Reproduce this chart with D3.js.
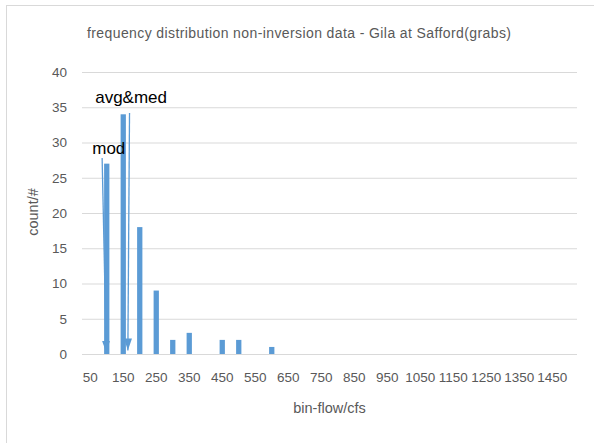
<!DOCTYPE html>
<html>
<head>
<meta charset="utf-8">
<script src="https://cdn.jsdelivr.net/npm/d3@7"></script>
<style>
  body { margin: 0; background: #fff; }
  text { font-family: "Liberation Sans", "Open Sans", sans-serif; fill: #595959; }
</style>
</head>
<body>
<svg id="chart" width="594" height="443"></svg>
<script>
'use strict';
// bins (cfs) and counts
let bins = [50, 100, 150, 200, 250, 300, 350, 400, 450, 500, 550, 600, 650, 700, 750,
            800, 850, 900, 950, 1000, 1050, 1100, 1150, 1200, 1250, 1300, 1350, 1400, 1450, 1500];
let counts = [0, 27, 34, 18, 9, 2, 3, 0, 2, 2, 0, 1, 0, 0, 0,
              0, 0, 0, 0, 0, 0, 0, 0, 0, 0, 0, 0, 0, 0, 0];
let yTicks = [0, 5, 10, 15, 20, 25, 30, 35, 40];

// annotations, in (bin, count) units
let arrows = [
    {label: "mod", from: [86, 27.8], to: [98.5, 0.2], text: [56, 28.4]},
    {label: "avg&med", from: [169, 34.2], to: [164, 0.5], text: [65, 35.6]}
];

let svg = d3.select("#chart"),
    margin = {top: 72, right: 17, bottom: 89, left: 82},
    width = +svg.attr("width"),
    height = +svg.attr("height");

let blue = "#5B9BD5";

// chart border
svg.append("rect")
    .attr("x", 6.5).attr("y", 5.5)
    .attr("width", width).attr("height", height)
    .attr("fill", "none")
    .attr("stroke", "#d9d9d9");

let x = d3.scaleBand()
    .domain(bins)
    .range([margin.left, width - margin.right])
    .paddingInner(0.68)
    .paddingOuter(0.34);

// continuous position along the category axis, for annotations
let xc = d3.scaleLinear()
    .domain([bins[0], bins[bins.length - 1]])
    .range([x(bins[0]) + x.bandwidth() / 2, x(bins[bins.length - 1]) + x.bandwidth() / 2]);

let y = d3.scaleLinear()
    .domain([0, 40])
    .range([height - margin.bottom, margin.top]);

// gridlines + y labels
let yAxis = svg.append("g")
    .attr("transform", "translate(" + margin.left + ",0)")
    .call(d3.axisLeft(y).tickValues(yTicks).tickSize(-(width - margin.left - margin.right)).tickPadding(15));
yAxis.select(".domain").remove();
yAxis.selectAll(".tick line").attr("stroke", "#d9d9d9");
yAxis.selectAll(".tick text").style("font-size", "13.5px").attr("fill", "#595959");

// x labels, every other bin
let xAxis = svg.append("g")
    .attr("transform", "translate(0," + y(0) + ")")
    .call(d3.axisBottom(x).tickValues(bins.filter((d, i) => i % 2 === 0)).tickSize(0).tickPadding(18));
xAxis.select(".domain").remove();
xAxis.selectAll(".tick text").style("font-size", "13.5px").attr("fill", "#595959");

// bars
svg.append("g").selectAll("rect")
    .data(bins.map((b, i) => ({bin: b, count: counts[i]})).filter(d => d.count > 0))
    .enter().append("rect")
    .attr("x", d => x(d.bin))
    .attr("y", d => y(d.count))
    .attr("width", x.bandwidth())
    .attr("height", d => y(0) - y(d.count))
    .attr("fill", blue);

// title
svg.append("text")
    .attr("x", 299).attr("y", 38)
    .style("text-anchor", "middle")
    .style("font-size", "14px")
    .attr("textLength", 424)
    .text("frequency distribution non-inversion data - Gila at Safford(grabs)");

// axis titles
svg.append("text")
    .attr("x", (margin.left + width - margin.right) / 2)
    .attr("y", 413)
    .style("text-anchor", "middle")
    .style("font-size", "14.5px")
    .text("bin-flow/cfs");

svg.append("text")
    .attr("transform", "translate(38," + 212 + ") rotate(-90)")
    .style("text-anchor", "middle")
    .style("font-size", "14.5px")
    .text("count/#");

// arrows
svg.append("defs").append("marker")
    .attr("id", "head")
    .attr("viewBox", "0 0 12 8")
    .attr("refX", 12).attr("refY", 4)
    .attr("markerWidth", 12).attr("markerHeight", 8)
    .attr("markerUnits", "userSpaceOnUse")
    .attr("orient", "auto")
    .append("path")
    .attr("d", "M0,0 L12,4 L0,8 z")
    .attr("fill", blue);

let ann = svg.append("g").selectAll("g").data(arrows).enter().append("g");
ann.append("line")
    .attr("x1", d => xc(d.from[0])).attr("y1", d => y(d.from[1]))
    .attr("x2", d => xc(d.to[0])).attr("y2", d => y(d.to[1]))
    .attr("stroke", blue)
    .attr("stroke-width", 1.3)
    .attr("marker-end", "url(#head)");
ann.append("text")
    .attr("x", d => xc(d.text[0])).attr("y", d => y(d.text[1]))
    .style("font-size", "17px")
    .style("fill", "#000")
    .text(d => d.label);
</script>
</body>
</html>
